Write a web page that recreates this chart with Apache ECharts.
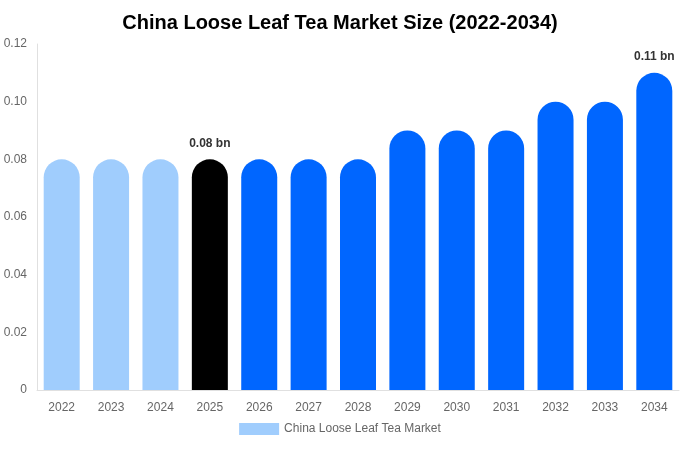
<!DOCTYPE html>
<html>
<head>
<meta charset="utf-8">
<script src="https://cdn.jsdelivr.net/npm/echarts@6/dist/echarts.min.js"></script>
<style>
  html, body { margin: 0; padding: 0; background: #fff; }
  #chart { width: 680px; height: 450px; }
</style>
</head>
<body>
<div id="chart"></div>
<script>
// 年份与市场规模（十亿美元）
var years = ['2022', '2023', '2024', '2025', '2026', '2027', '2028', '2029', '2030', '2031', '2032', '2033', '2034'];
var values = [0.08, 0.08, 0.08, 0.08, 0.08, 0.08, 0.08, 0.09, 0.09, 0.09, 0.10, 0.10, 0.11];
var labelYears = ['2025', '2034'];

var myChart = echarts.init(document.getElementById('chart'));

var barData = [];
for (let i = 0; i < years.length; i++) {
    var y = parseInt(years[i]);
    var color = y < 2025 ? '#a0cdfd' : (y === 2025 ? '#000000' : '#0066ff');
    barData.push({
        value: values[i],
        itemStyle: { color: color },
        label: { show: labelYears.indexOf(years[i]) >= 0 }
    });
}

var option = {
    animation: false,
    title: {
        text: 'China Loose Leaf Tea Market Size (2022-2034)',
        left: 'center',
        top: 8,
        textStyle: { fontSize: 20, fontWeight: 'bold', color: '#000', fontFamily: 'Liberation Sans, Arial, sans-serif' }
    },
    legend: {
        bottom: 10,
        left: 'center',
        itemWidth: 40,
        itemHeight: 12,
        icon: 'rect',
        textStyle: { color: '#666', fontSize: 12, fontFamily: 'Liberation Sans, Arial, sans-serif' },
        data: [{ name: 'China Loose Leaf Tea Market', itemStyle: { color: '#a0cdfd' } }]
    },
    grid: { left: 37, right: 1, top: 44, bottom: 60 },
    xAxis: {
        type: 'category',
        data: years,
        axisTick: { show: false },
        axisLine: { lineStyle: { color: '#e0e0e0' } },
        axisLabel: { color: '#666', fontSize: 12, margin: 12, fontFamily: 'Liberation Sans, Arial, sans-serif' }
    },
    yAxis: {
        type: 'value',
        min: 0,
        max: 0.12,
        interval: 0.02,
        splitLine: { show: false },
        axisLine: { show: true, lineStyle: { color: '#e0e0e0' } },
        axisTick: { show: false },
        axisLabel: {
            color: '#666', fontSize: 12, margin: 10, fontFamily: 'Liberation Sans, Arial, sans-serif',
            formatter: function (v) { return v === 0 ? '0' : v.toFixed(2); }
        }
    },
    series: [{
        name: 'China Loose Leaf Tea Market',
        type: 'bar',
        barWidth: 36,
        data: barData,
        itemStyle: { borderRadius: [18, 18, 0, 0] },
        label: {
            position: 'top',
            distance: 10,
            fontWeight: 'bold',
            fontSize: 12,
            color: '#333',
            fontFamily: 'Liberation Sans, Arial, sans-serif',
            formatter: function (p) { return p.value.toFixed(2) + ' bn'; }
        }
    }]
};
myChart.setOption(option);
</script>
</body>
</html>
